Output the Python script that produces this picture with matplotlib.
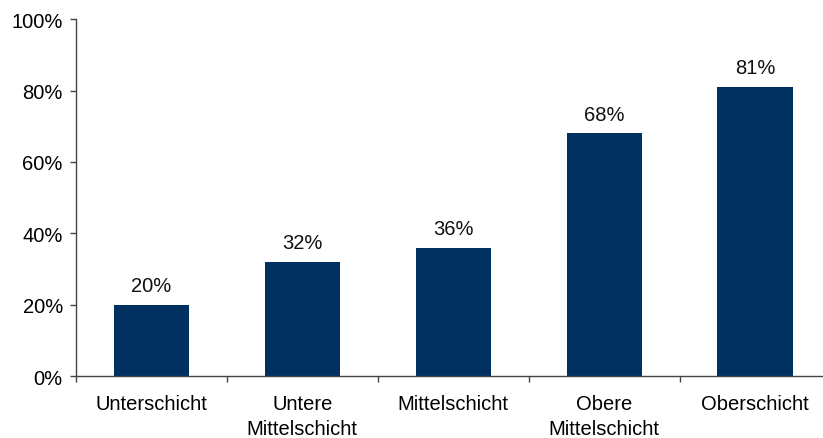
import numpy as np
import matplotlib.pyplot as plt

plt.rcParams['font.family'] = ['Liberation Sans', 'DejaVu Sans']

categories = ['Unterschicht', 'Untere\nMittelschicht', 'Mittelschicht',
              'Obere\nMittelschicht', 'Oberschicht']
values = [20, 32, 36, 68, 81]
yticks = [0, 20, 40, 60, 80, 100]

fig = plt.figure(figsize=(8.23, 4.39), dpi=100)
ax = fig.add_axes([0.0923, 0.141, 0.917, 0.813])

x = np.arange(len(categories))
ax.bar(x, values, width=0.5, color='#003060')
for xi, v in zip(x, values):
    ax.annotate('%d%%' % v, (xi, v), xytext=(0, 7), textcoords='offset points',
                ha='center', va='bottom', fontsize=14.5, color='#111111')

ax.set_xlim(-0.5, len(categories) - 0.5)
ax.set_ylim(0, 100)
ax.set_yticks(yticks)
ax.set_yticklabels(['%d%%' % t for t in yticks], fontsize=14.5)

ax.set_xticks(np.arange(-0.5, len(categories), 1))
ax.set_xticklabels([])
ax.set_xticks(x, minor=True)
ax.set_xticklabels(categories, minor=True, fontsize=14.5, linespacing=1.4,
                   va='top')
ax.tick_params(axis='x', which='minor', length=0, pad=13)
ax.tick_params(axis='both', which='major', length=4.5, width=1, color='#444444',
               direction='out')
ax.tick_params(axis='y', pad=5)

for s in ['top', 'right']:
    ax.spines[s].set_visible(False)
for s in ['left', 'bottom']:
    ax.spines[s].set_color('#444444')
    ax.spines[s].set_linewidth(1)

fig.savefig('out.png', dpi=100)
